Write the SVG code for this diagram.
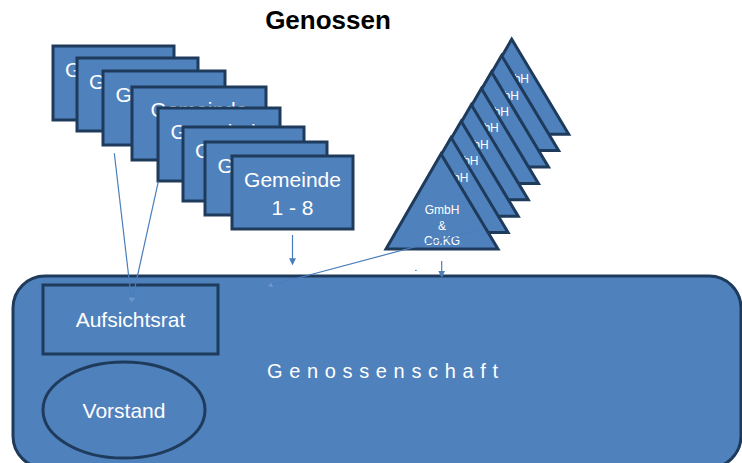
<svg xmlns="http://www.w3.org/2000/svg" width="742" height="463" viewBox="0 0 742 463">
<defs>
<style>
.box{fill:#4F81BD;stroke:#1F3B5C;stroke-width:3}
.wt{fill:#ffffff;font-family:"Liberation Sans",Arial,sans-serif;text-anchor:middle}
.g21{font-size:21px}
.g12{font-size:12px}
.con{stroke:#4A7EBB;stroke-width:1.2;fill:none}
</style>
<marker id="ah" viewBox="0 0 10 10" refX="9" refY="5" markerWidth="7" markerHeight="7" markerUnits="userSpaceOnUse" orient="auto">
<path d="M0,0 L10,5 L0,10 z" fill="#4A7EBB"/>
</marker>
<marker id="ahs" viewBox="0 0 10 10" refX="9" refY="5" markerWidth="5" markerHeight="5" markerUnits="userSpaceOnUse" orient="auto">
<path d="M0,0 L10,5 L0,10 z" fill="#6E96C8"/>
</marker>
<polygon id="tri" points="441,154 386,249 498,249"/>
</defs>

<text x="328" y="29" font-family="'Liberation Sans',Arial,sans-serif" font-size="26" font-weight="bold" text-anchor="middle" fill="#000">Genossen</text>

<g id="genossenschaft">
<rect class="box" x="13" y="276" width="728" height="192" rx="32" ry="32"/>
<text class="wt" x="267" y="378" font-size="20" text-anchor="start" textLength="231" lengthAdjust="spacing" style="text-anchor:start">Genossenschaft</text>
</g>
<g id="aufsichtsrat">
<rect class="box" x="43" y="285" width="175" height="69"/>
<text class="wt g21" x="130.5" y="327">Aufsichtsrat</text>
</g>
<g id="vorstand">
<ellipse class="box" cx="124" cy="410" rx="81" ry="48"/>
<text class="wt g21" x="124" y="418">Vorstand</text>
</g>

<g id="gemeinde-1">
<rect class="box" x="53" y="46" width="121" height="74"/>
<text class="wt g21" x="113.5" y="77">Gemeinde</text>
</g>
<g id="gemeinde-2">
<rect class="box" x="77" y="58" width="121" height="73"/>
<text class="wt g21" x="137.5" y="89">Gemeinde</text>
</g>
<g id="gemeinde-3">
<rect class="box" x="103" y="71" width="122" height="74"/>
<text class="wt g21" x="164" y="102">Gemeinde</text>
</g>
<g id="gemeinde-4">
<rect class="box" x="132" y="87" width="134" height="73"/>
<text class="wt g21" x="199" y="117">Gemeinde</text>
</g>
<g id="gemeinde-5">
<rect class="box" x="158" y="108" width="122" height="73"/>
<text class="wt g21" x="219" y="139">Gemeinde</text>
</g>
<g id="gemeinde-6">
<rect class="box" x="183" y="127" width="121" height="74"/>
<text class="wt g21" x="243.5" y="158">Gemeinde</text>
</g>
<g id="gemeinde-7">
<rect class="box" x="205" y="142" width="122" height="73"/>
<text class="wt g21" x="266" y="173">Gemeinde</text>
</g>
<g id="gemeinde-8">
<rect class="box" x="232" y="156" width="121" height="73"/>
<text class="wt g21" x="292.5" y="187">Gemeinde</text>
<text class="wt g21" x="292.5" y="215">1 - 8</text>
</g>

<g id="gmbh-8" transform="translate(70.7,-114.8)">
<use href="#tri" class="box"/>
<text class="wt g12" x="441" y="198">GmbH</text>
</g>
<g id="gmbh-7" transform="translate(60.6,-98.4)">
<use href="#tri" class="box"/>
<text class="wt g12" x="441" y="198">GmbH</text>
</g>
<g id="gmbh-6" transform="translate(50.5,-82)">
<use href="#tri" class="box"/>
<text class="wt g12" x="441" y="198">GmbH</text>
</g>
<g id="gmbh-5" transform="translate(40.4,-65.6)">
<use href="#tri" class="box"/>
<text class="wt g12" x="441" y="198">GmbH</text>
</g>
<g id="gmbh-4" transform="translate(30.3,-49.2)">
<use href="#tri" class="box"/>
<text class="wt g12" x="441" y="198">GmbH</text>
</g>
<g id="gmbh-3" transform="translate(20.2,-32.8)">
<use href="#tri" class="box"/>
<text class="wt g12" x="441" y="198">GmbH</text>
</g>
<g id="gmbh-2" transform="translate(10.1,-16.4)">
<use href="#tri" class="box"/>
<text class="wt g12" x="441" y="198">GmbH</text>
</g>
<g id="gmbh-1">
<use href="#tri" class="box"/>
<text class="wt g12" x="442" y="214">GmbH</text>
<text class="wt g12" x="442" y="230">&amp;</text>
<text class="wt g12" x="442" y="245">Co.KG</text>
</g>

<text x="414.5" y="271" font-family="'Liberation Sans',Arial,sans-serif" font-size="10" fill="#333">.</text>

<g id="connectors">
<line class="con" x1="114.3" y1="153.3" x2="131.7" y2="302" marker-end="url(#ahs)"/>
<line class="con" x1="158.3" y1="181.7" x2="131.7" y2="302" marker-end="url(#ahs)"/>
<line class="con" x1="292.5" y1="235" x2="292.5" y2="264.5" marker-end="url(#ah)"/>
<line class="con" x1="478" y1="230" x2="268" y2="286" stroke="#6E96C8" marker-end="url(#ahs)"/>
<line class="con" x1="441.7" y1="261" x2="441.7" y2="277" marker-end="url(#ah)"/>
</g>
</svg>
